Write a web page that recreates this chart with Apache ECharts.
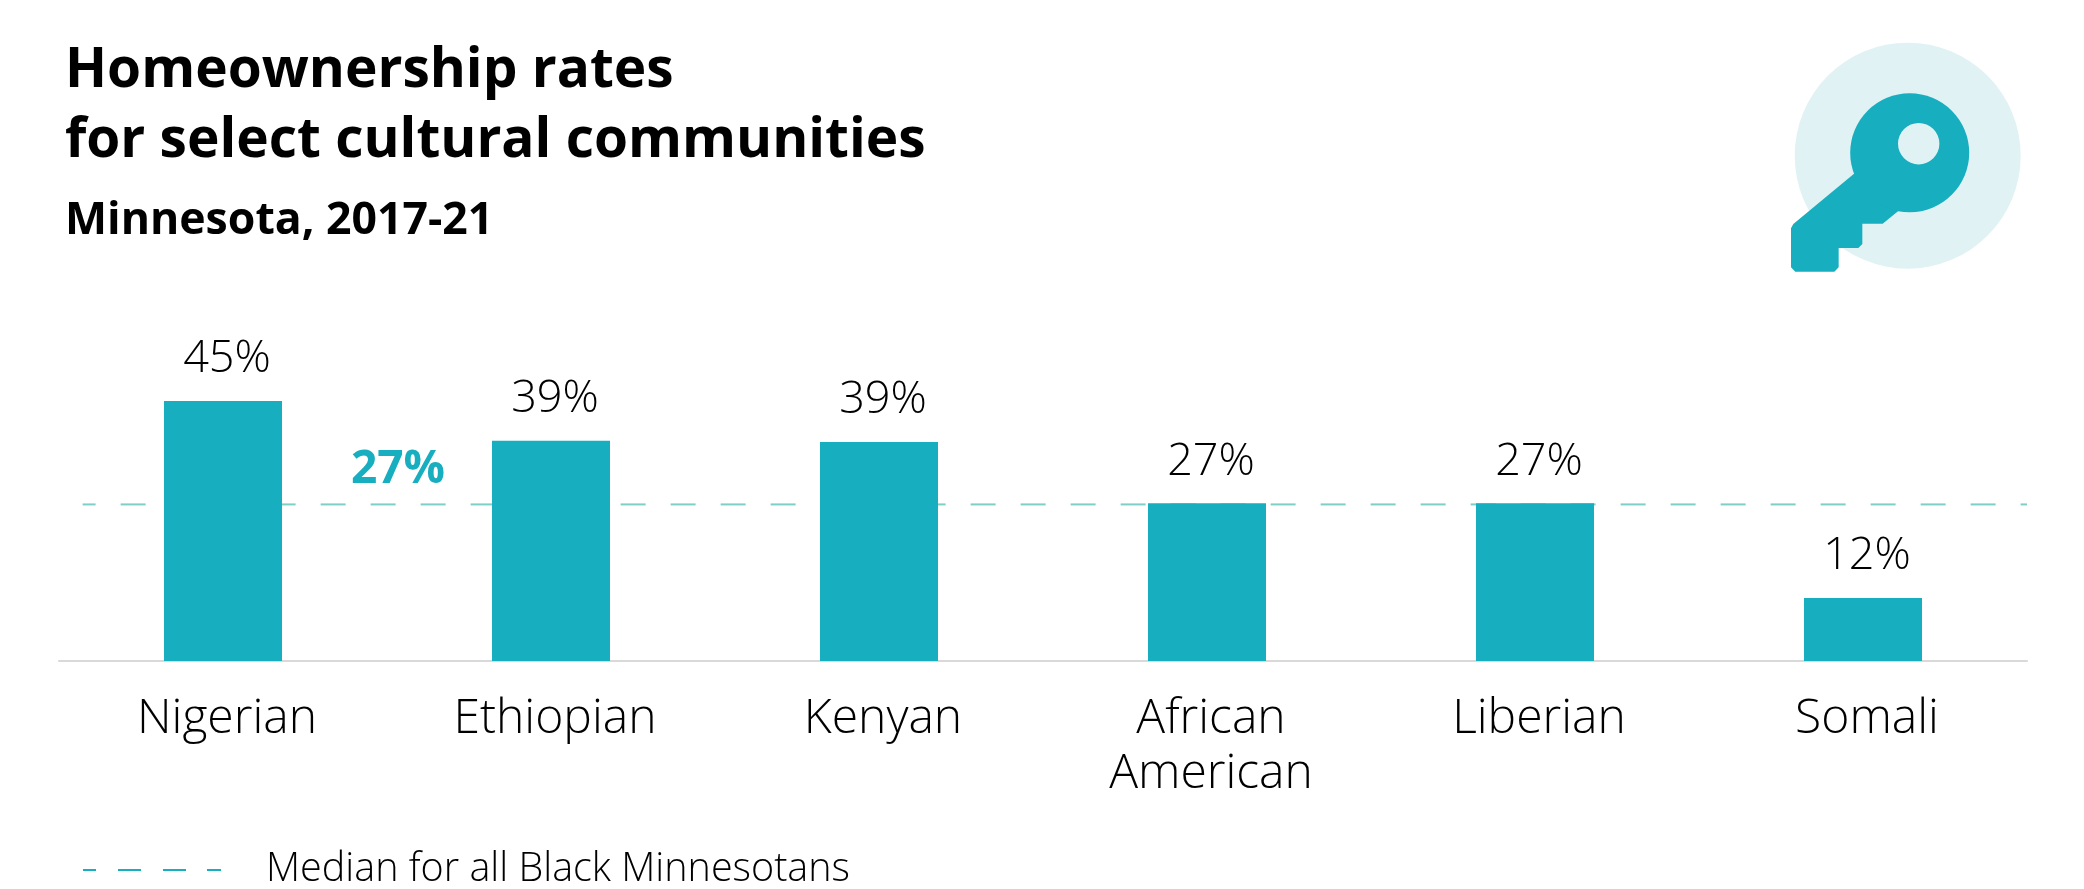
<!DOCTYPE html>
<html><head><meta charset="utf-8">
<style>html,body{margin:0;padding:0;background:#fff}#c{width:2084px;height:889px}</style>
<script src="https://cdn.jsdelivr.net/npm/echarts@6/dist/echarts.min.js"></script>
</head><body><div id="c"></div>
<script>
const categories = ['Nigerian','Ethiopian','Kenyan','African\nAmerican','Liberian','Somali'];
const printedLabels = ['45%','39%','39%','27%','27%','12%'];
// Bar lengths as drawn in the picture, on the scale set by the 45% bar.
const drawnHeights = [45, 38.1, 37.9, 27.3, 27.3, 10.9];
const medianValue = 27.1;
const medianLabel = '27%';
const medianName = 'Median for all Black Minnesotans';
const TEAL = '#17aebf', DASH = '#7fcfc9', FONT = 'Open Sans';

const chart = echarts.init(document.getElementById('c'), null, {renderer:'canvas'});
const kx = v => 1760 + v/3, ky = v => 20 + v/3;
const keyPts = [[282,461],[100,612],[93,625],[93,742],[106,755],[223,755],[236,742],[236,684],[295,684],[307,672],[307,611],[368,611],[414,574],[449,398]]
  .map(p => [kx(p[0]), ky(p[1])]);
chart.setOption({
  animation:false,
  backgroundColor:'#fff',
  title:{
    left:60, top:31, itemGap:20,
    text:'Homeownership rates\nfor select cultural communities',
    textStyle:{fontFamily:'Open Sans',fontWeight:700,fontSize:55,lineHeight:70,color:'#000'},
    subtext:'Minnesota, 2017-21',
    subtextStyle:{fontFamily:'Open Sans',fontWeight:700,fontSize:44.6,lineHeight:50,color:'#000'}
  },
  legend:{
    show:true,left:78,top:845,itemWidth:138,itemHeight:6,itemGap:0,
    data:[{name:medianName,icon:'path://M0,0H13V2H0ZM35,0H58V2H35ZM80,0H103V2H80ZM124,0H138V2H124Z',itemStyle:{color:TEAL,borderWidth:0}}],
    textStyle:{fontFamily:FONT,fontWeight:300,fontSize:39.5,color:'#000',padding:[0,0,0,40]}
  },
  grid:{left:59,top:401,width:1968,height:260,containLabel:false},
  xAxis:[
    {type:'category',data:categories,axisTick:{show:false},
     axisLine:{lineStyle:{color:'#d9d9d9',width:2}},
     axisLabel:{fontFamily:FONT,fontWeight:300,fontSize:48,lineHeight:55,color:'#000',margin:31,interval:0,padding:[0,0,0,8]}},
    {type:'value',min:0,max:100,show:false}
  ],
  yAxis:{type:'value',min:0,max:45,show:false},
  series:[
    {type:'line',name:medianName,xAxisIndex:1,z:1,showSymbol:false,symbol:'none',silent:true,
     data:[[1.2,medianValue],[100,medianValue]],
     lineStyle:{color:DASH,width:2,type:[25,25],dashOffset:12}},
    {type:'bar',xAxisIndex:0,z:3,barWidth:118,data:drawnHeights,itemStyle:{color:TEAL},
     label:{show:true,position:'top',distance:19,offset:[4,0],
       formatter:p=>printedLabels[p.dataIndex],
       fontFamily:FONT,fontWeight:300,fontSize:45,color:'#000'}}
  ],
  graphic:[
    {type:'circle',shape:{cx:1907.7,cy:155.7,r:113},style:{fill:'#e0f2f4'},z:1},
    {type:'polygon',shape:{points:keyPts},style:{fill:TEAL},z:2},
    {type:'circle',shape:{cx:1909.7,cy:152.7,r:59.5},style:{fill:TEAL},z:3},
    {type:'circle',shape:{cx:1918.7,cy:143.7,r:20.7},style:{fill:'#e0f2f4'},z:4},
    {type:'text',x:398,y:470,z:5,style:{text:medianLabel,fill:TEAL,font:'700 46px '+FONT,textAlign:'center',textVerticalAlign:'middle'}}
  ]
});
</script></body></html>
